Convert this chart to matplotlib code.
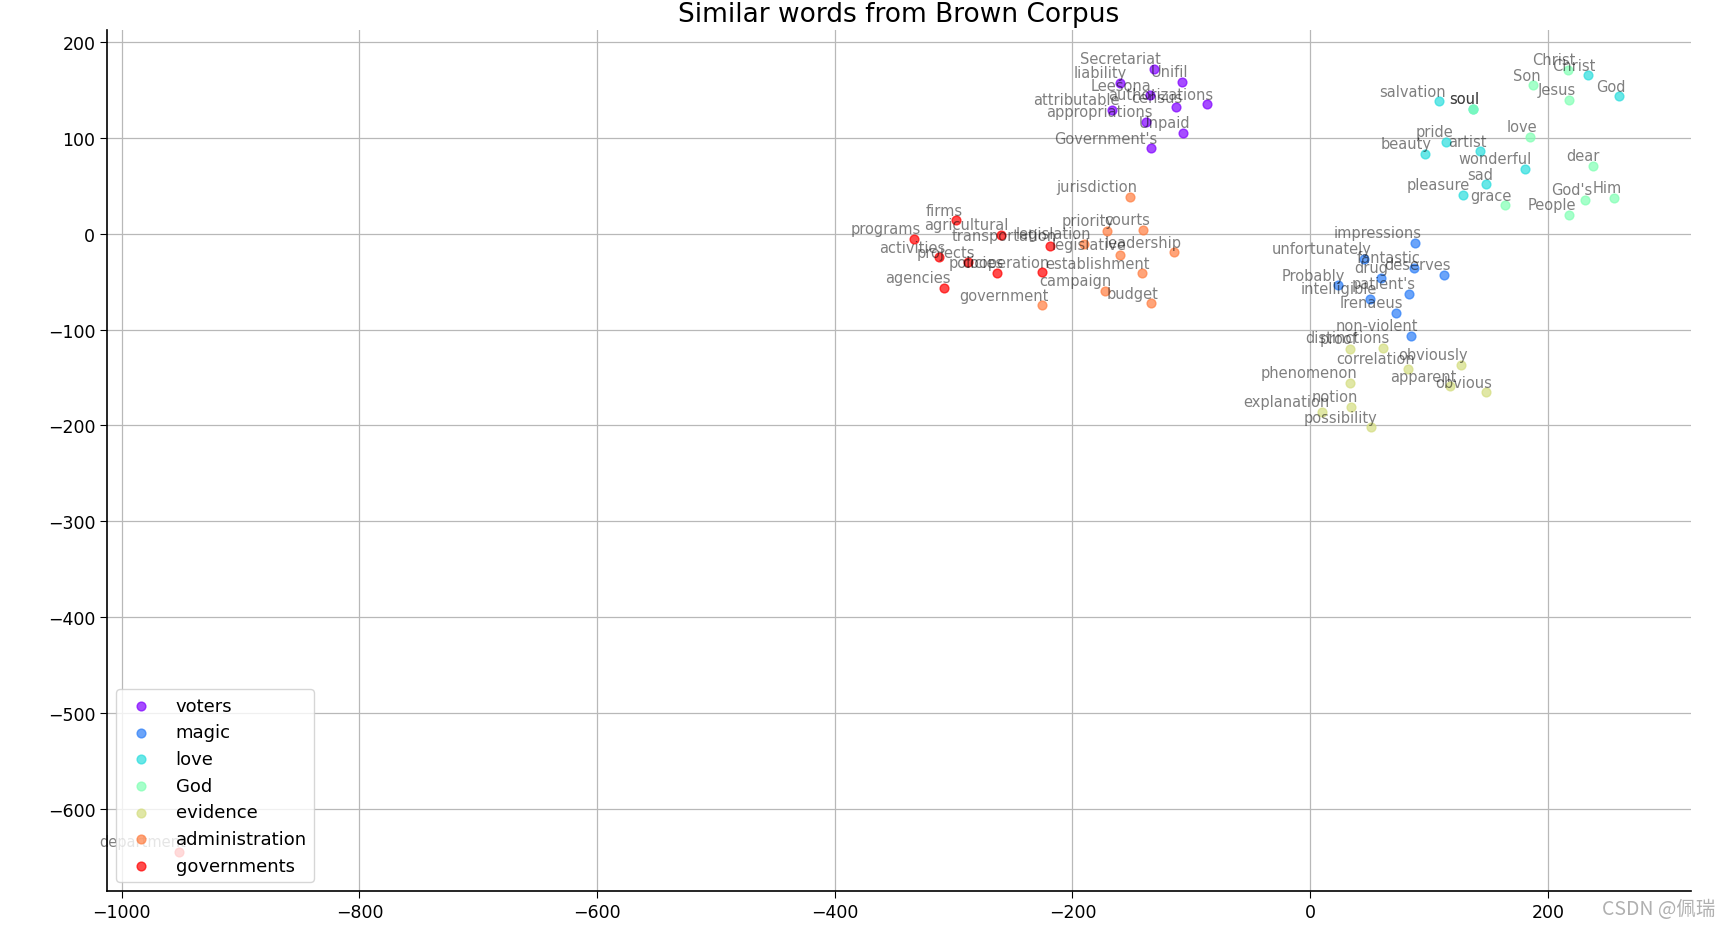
import numpy as np
import matplotlib
matplotlib.use('Agg')
import matplotlib.pyplot as plt
import matplotlib.cm as cm

# 每个关键词及其相似词 (t-SNE 坐标, 从图上读出)
labels = ['voters', 'magic', 'love', 'God', 'evidence', 'administration', 'governments']

voters_words = ['Secretariat', 'Unifil', 'liability', 'Leesona.', 'census', 'authorizations',
                'attributable', 'appropriations', 'Unpaid', "Government's"]
voters_x = [-131.1, -108.2, -159.7, -135.1, -113.2, -87.2, -166.5, -138.5, -106.8, -134.0]
voters_y = [172.2, 158.7, 157.3, 144.5, 131.9, 135.1, 129.5, 116.6, 105.1, 89.1]

magic_words = ['impressions', 'unfortunately', 'fantastic', 'deserves', 'drug', 'Probably',
               "patient's", 'intelligible', 'Irenaeus', 'non-violent']
magic_x = [87.9, 45.6, 87.1, 112.6, 59.7, 23.5, 82.9, 50.7, 72.5, 85.2]
magic_y = [-9.7, -26.1, -35.8, -42.8, -46.2, -53.9, -62.6, -68.2, -82.8, -106.8]

love_words = ['Christ', 'God', 'salvation', 'soul', 'pride', 'beauty', 'artist',
              'wonderful', 'sad', 'pleasure']
love_x = [234.2, 259.7, 108.1, 136.7, 114.3, 96.7, 142.9, 180.4, 148.0, 128.9]
love_y = [165.3, 143.4, 138.2, 130.5, 96.0, 83.2, 86.0, 67.9, 51.5, 40.7]

god_words = ['Christ', 'Son', 'Jesus', 'soul', 'love', 'dear', "God's", 'Him', 'grace', 'People']
god_x = [217.1, 187.7, 218.0, 136.7, 185.4, 238.1, 231.4, 256.1, 163.6, 218.0]
god_y = [171.2, 154.9, 139.9, 130.5, 100.9, 71.0, 35.5, 37.3, 29.6, 19.8]

evidence_words = ['distinctions', 'proof', 'correlation', 'obviously', 'phenomenon',
                  'apparent', 'obvious', 'notion', 'explanation', 'possibility']
evidence_x = [61.1, 33.6, 82.4, 126.9, 33.6, 117.6, 147.6, 34.1, 10.1, 51.0]
evidence_y = [-119.3, -120.0, -140.9, -136.7, -155.8, -159.3, -165.6, -180.9, -186.1, -202.1]

admin_words = ['jurisdiction', 'priority', 'courts', 'legislation', 'legislative', 'leadership',
               'establishment', 'campaign', 'budget', 'government']
admin_x = [-151.3, -170.6, -140.7, -190.3, -160.3, -114.3, -141.2, -172.9, -133.7, -225.9]
admin_y = [38.3, 3.1, 4.2, -10.4, -21.9, -19.4, -41.3, -59.5, -72.7, -74.7]

gov_words = ['firms', 'agricultural', 'programs', 'transportation', 'activities', 'projects',
             'policies', 'cooperation', 'agencies', 'department']
gov_x = [-298.2, -259.8, -333.5, -219.2, -312.5, -287.5, -263.4, -225.3, -308.3, -951.8]
gov_y = [14.0, -1.0, -5.2, -12.5, -24.6, -29.9, -41.0, -40.3, -56.7, -645.0]

word_clusters = [voters_words, magic_words, love_words, god_words, evidence_words, admin_words, gov_words]
xs = [voters_x, magic_x, love_x, god_x, evidence_x, admin_x, gov_x]
ys = [voters_y, magic_y, love_y, god_y, evidence_y, admin_y, gov_y]

fig = plt.figure(figsize=(17.27, 9.29), dpi=100)
ax = fig.add_axes([0.062, 0.040, 0.917, 0.927])

colors = cm.rainbow(np.linspace(0, 1, len(labels)))
for label, x, y, words, color in zip(labels, xs, ys, word_clusters, colors):
    ax.scatter(x, y, color=color, alpha=0.7, label=label, s=40, zorder=2)
    for i, word in enumerate(words):
        ax.annotate(word, alpha=0.5, xy=(x[i], y[i]), xytext=(5, 2),
                    textcoords='offset points', ha='right', va='bottom', size=10.5)

ax.legend(loc=3, fontsize=13, framealpha=0.8, handletextpad=0.9, labelspacing=0.48)
ax.set_title('Similar words from Brown Corpus', fontsize=19)
ax.grid(True, color='#b8b8b8', linewidth=0.9)
ax.set_axisbelow(True)
ax.spines['top'].set_visible(False)
ax.spines['right'].set_visible(False)
ax.spines['left'].set_linewidth(1.2)
ax.spines['bottom'].set_linewidth(1.2)
ax.tick_params(labelsize=12.5, length=5)

fig.text(0.993, 0.021, 'CSDN @佩瑞', ha='right', va='center', fontsize=14,
         color='#b0b0b0', family=['Noto Sans CJK SC', 'DejaVu Sans'])

fig.savefig('out.png', dpi=100)
